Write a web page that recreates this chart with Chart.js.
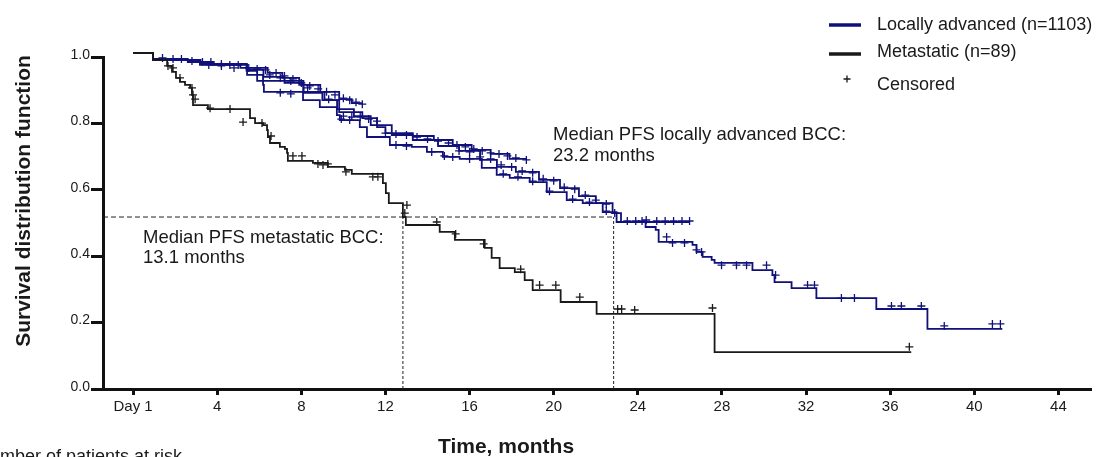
<!DOCTYPE html>
<html>
<head>
<meta charset="utf-8">
<script src="https://cdn.jsdelivr.net/npm/chart.js@4.4.1/dist/chart.umd.min.js"></script>
<style>
  html, body { margin: 0; padding: 0; background: #fff; }
  #wrap { position: relative; width: 1103px; height: 457px; }
</style>
</head>
<body>
<div id="wrap"><canvas id="km"></canvas></div>
<script>
const BLUE = '#10107a';
const BLACK = '#1a1a1a';
const FONT = '"Liberation Sans", Arial, sans-serif';

// x axis ticks (months)
const xTickValues = [0, 4, 8, 12, 16, 20, 24, 28, 32, 36, 40, 44];
const xTickLabels = ['Day 1', '4', '8', '12', '16', '20', '24', '28', '32', '36', '40', '44'];
const yTickValues = [0, 0.2, 0.4, 0.6, 0.8, 1.0];

// metastatic (n=89) step curve
const metTime = [0, 0.95, 1.62, 1.85, 2.04, 2.23, 2.47, 2.71, 2.80, 2.85, 3.56, 5.56, 5.80, 6.18, 6.37, 6.41, 6.51, 6.98, 7.22, 7.32, 7.36, 8.55, 9.26, 10.07, 10.40, 11.88, 12.02, 12.16, 12.83, 12.97, 14.58, 15.30, 16.72, 17.05, 17.43, 18.15, 18.62, 19.00, 20.33, 22.04, 27.65, 37.0];
const metSurv = [1.012, 0.991, 0.973, 0.955, 0.937, 0.925, 0.916, 0.907, 0.886, 0.855, 0.843, 0.816, 0.801, 0.795, 0.780, 0.759, 0.741, 0.729, 0.723, 0.711, 0.687, 0.681, 0.669, 0.660, 0.648, 0.620, 0.590, 0.560, 0.518, 0.494, 0.473, 0.449, 0.425, 0.395, 0.364, 0.352, 0.328, 0.298, 0.262, 0.226, 0.111, 0.111];
const metCensTime = [1.66, 1.90, 2.23, 2.80, 2.85, 2.95, 3.66, 4.61, 5.23, 6.13, 6.56, 7.60, 8.03, 8.79, 9.03, 9.26, 10.12, 11.40, 11.64, 12.92, 13.02, 14.44, 15.34, 16.67, 18.43, 19.33, 20.10, 21.24, 23.04, 23.23, 23.85, 27.55, 36.91];
const metCensSurv = [0.973, 0.967, 0.937, 0.907, 0.886, 0.873, 0.846, 0.843, 0.804, 0.801, 0.762, 0.702, 0.702, 0.678, 0.675, 0.678, 0.654, 0.639, 0.639, 0.530, 0.554, 0.503, 0.467, 0.437, 0.361, 0.313, 0.313, 0.277, 0.241, 0.241, 0.238, 0.244, 0.127];

// locally advanced (n=1103): the figure overlays several data cuts
const laTimeA = [0, 0.95, 3.18, 5.42, 6.18, 6.22, 8.08, 8.88, 9.69, 9.83, 10.78, 11.12, 12.21, 13.25, 13.97, 14.73, 15.53, 16.58, 17.29, 17.91, 18.86, 19.67, 20.62, 21.38, 22.33, 22.99, 24.37, 24.85, 24.99, 26.60, 26.79, 27.08, 27.51, 27.65, 29.45, 30.40, 30.50, 31.31, 32.49, 35.34, 37.77, 41.33];
const laSurvA = [1.012, 0.991, 0.976, 0.946, 0.916, 0.895, 0.870, 0.849, 0.825, 0.810, 0.789, 0.759, 0.735, 0.729, 0.714, 0.699, 0.693, 0.666, 0.645, 0.636, 0.623, 0.593, 0.569, 0.560, 0.533, 0.503, 0.488, 0.479, 0.443, 0.434, 0.413, 0.398, 0.389, 0.380, 0.358, 0.343, 0.322, 0.304, 0.274, 0.241, 0.181, 0.181];
const laTimeB = [0, 0.95, 3.2, 5.4, 5.9, 8.1, 9.0, 9.7, 10.5, 11.3, 12.3, 13.3, 14.5, 15.5, 16.5, 17.3, 18.2, 19.3, 20.3, 21.2, 22.0, 22.8, 23.2, 26.46];
const laSurvB = [1.012, 0.991, 0.979, 0.958, 0.928, 0.892, 0.870, 0.843, 0.822, 0.795, 0.765, 0.750, 0.732, 0.717, 0.690, 0.669, 0.654, 0.630, 0.605, 0.581, 0.560, 0.530, 0.503, 0.503];
const laTimeC = [0, 0.95, 3.2, 5.4, 6.2, 7.2, 8.1, 9.1, 9.8, 10.9, 11.6, 12.0, 13.3, 14.3, 15.2, 16.1, 17.0, 17.9, 18.72];
const laSurvC = [1.012, 0.991, 0.979, 0.961, 0.940, 0.922, 0.895, 0.870, 0.834, 0.816, 0.789, 0.771, 0.762, 0.750, 0.735, 0.720, 0.708, 0.693, 0.693];
const laTimeD = [0, 0.95, 2.6, 3.8, 5.1, 6.4, 7.1, 7.9, 8.9, 9.8, 10.4, 10.88];
const laSurvD = [1.012, 0.994, 0.985, 0.976, 0.967, 0.952, 0.937, 0.916, 0.895, 0.873, 0.861, 0.861];

const laCensTime = [
  0.05, 0.3, 0.55, 1.0,
  1.4, 1.9, 2.3, 2.8, 3.3, 3.7, 4.2, 4.6, 5.0, 5.5, 5.9, 6.3, 6.8, 7.2, 7.6, 8.0, 8.4, 8.8, 9.2, 9.6, 10.0, 10.3, 10.6, 10.9,
  6.5, 7.0, 7.5, 8.3, 9.3, 10.0, 10.4, 10.8, 11.2, 11.6, 12.0, 12.5, 13.0, 13.5, 14.0, 14.5, 15.0, 15.4, 15.8, 16.2, 16.6, 17.0, 17.4, 17.8, 18.2, 18.7,
  15.5, 16.0, 16.5, 17.0, 17.5, 18.0, 18.5, 19.0, 19.5, 20.0, 20.5, 21.0, 21.5, 22.0, 22.5, 22.9, 24.4, 24.9, 25.3, 25.7, 26.1, 26.46,
  3.6, 4.2, 4.8, 7.0, 7.5, 9.9, 10.3, 12.5, 13.0, 14.2, 14.8, 15.2, 16.0, 17.6, 18.3, 19.0, 19.8, 20.9, 21.7, 22.5, 23.5, 23.9, 24.2,
  25.37, 25.65, 26.22, 26.79, 27.03, 27.98, 28.69, 29.17, 30.12, 30.55, 32.07, 32.40, 33.68, 34.30, 36.06, 36.53, 37.48, 38.57, 40.86, 41.24
];
const laCensSurv = [
  1.020, 1.020, 1.020, 1.020,
  0.997, 0.994, 0.994, 0.988, 0.985, 0.985, 0.979, 0.976, 0.976, 0.967, 0.964, 0.961, 0.952, 0.943, 0.934, 0.922, 0.913, 0.904, 0.895, 0.886, 0.876, 0.870, 0.864, 0.858,
  0.946, 0.937, 0.928, 0.907, 0.873, 0.822, 0.819, 0.819, 0.813, 0.807, 0.771, 0.768, 0.765, 0.759, 0.753, 0.747, 0.741, 0.735, 0.729, 0.723, 0.717, 0.711, 0.708, 0.702, 0.696, 0.690,
  0.717, 0.714, 0.699, 0.693, 0.675, 0.669, 0.657, 0.651, 0.633, 0.627, 0.608, 0.602, 0.584, 0.569, 0.557, 0.530, 0.509, 0.506, 0.506, 0.506, 0.506, 0.506,
  0.976, 0.973, 0.967, 0.892, 0.889, 0.813, 0.810, 0.735, 0.732, 0.714, 0.702, 0.699, 0.693, 0.648, 0.639, 0.626, 0.596, 0.572, 0.563, 0.536, 0.506, 0.506, 0.506,
  0.458, 0.440, 0.440, 0.419, 0.413, 0.373, 0.373, 0.373, 0.373, 0.343, 0.313, 0.313, 0.274, 0.274, 0.250, 0.250, 0.250, 0.190, 0.196, 0.196
];

// median reference lines
const medianLevel = 0.518;
const medianMonths = [12.83, 22.85];

const X_MIN = -1.43, X_MAX = 45.5;

function pts(times, vals) {
  return times.map((t, i) => ({ x: t, y: vals[i] }));
}

function stepSet(label, times, vals, color) {
  return {
    label, data: pts(times, vals), borderColor: color, borderWidth: 1.8,
    stepped: 'before', pointRadius: 0, fill: false, clip: false
  };
}

function censorSet(label, times, vals, color) {
  return {
    label, data: pts(times, vals), showLine: false, pointStyle: 'cross',
    pointRadius: 4, pointBorderWidth: 1.3, borderColor: color, backgroundColor: color, clip: false
  };
}

function dashSet(a, b, dash) {
  return {
    label: 'median', data: [a, b], borderColor: '#222', borderWidth: 1,
    borderDash: dash, pointRadius: 0, fill: false
  };
}

const datasets = [
  stepSet('Metastatic (n=89)', metTime, metSurv, BLACK),
  censorSet('Censored met', metCensTime, metCensSurv, BLACK),
  stepSet('Locally advanced (n=1103)', laTimeA, laSurvA, BLUE),
  stepSet('LA cut B', laTimeB, laSurvB, BLUE),
  stepSet('LA cut C', laTimeC, laSurvC, BLUE),
  stepSet('LA cut D', laTimeD, laSurvD, BLUE),
  censorSet('Censored LA', laCensTime, laCensSurv, BLUE),
  dashSet({ x: X_MIN, y: medianLevel }, { x: medianMonths[1], y: medianLevel }, [5, 3]),
  dashSet({ x: medianMonths[0], y: 0 }, { x: medianMonths[0], y: medianLevel }, [3, 2]),
  dashSet({ x: medianMonths[1], y: 0 }, { x: medianMonths[1], y: medianLevel }, [3, 2])
];

// texts, legend and axis titles drawn on top
const decorations = {
  id: 'decorations',
  afterDraw(chart) {
    const ctx = chart.ctx;
    ctx.save();
    ctx.fillStyle = '#1a1a1a';
    ctx.textAlign = 'left';
    ctx.textBaseline = 'alphabetic';

    // legend
    ctx.lineWidth = 3.5;
    ctx.strokeStyle = BLUE;
    ctx.beginPath(); ctx.moveTo(829, 25); ctx.lineTo(861, 25); ctx.stroke();
    ctx.strokeStyle = BLACK;
    ctx.beginPath(); ctx.moveTo(829, 54); ctx.lineTo(861, 54); ctx.stroke();
    ctx.lineWidth = 1.3;
    ctx.beginPath();
    ctx.moveTo(843.5, 79); ctx.lineTo(850.5, 79);
    ctx.moveTo(847, 75.5); ctx.lineTo(847, 82.5);
    ctx.stroke();
    ctx.font = '18px ' + FONT;
    ctx.fillText('Locally advanced (n=1103)', 877, 30);
    ctx.fillText('Metastatic (n=89)', 877, 57);
    ctx.fillText('Censored', 877, 90);

    // median notes
    ctx.font = '18.5px ' + FONT;
    ctx.fillText('Median PFS locally advanced BCC:', 553, 140);
    ctx.fillText('23.2 months', 553, 161);
    ctx.fillText('Median PFS metastatic BCC:', 143, 243);
    ctx.fillText('13.1 months', 143, 263);

    // cut-off risk table heading
    ctx.font = '18px ' + FONT;
    ctx.fillText('Number of patients at risk', -23, 462);

    // axis titles
    ctx.font = 'bold 21px ' + FONT;
    ctx.textAlign = 'center';
    ctx.fillText('Time, months', 506, 453);
    ctx.translate(29.5, 201);
    ctx.rotate(-Math.PI / 2);
    ctx.fillText('Survival distribution function', 0, 0);
    ctx.restore();
  }
};

new Chart(document.getElementById('km'), {
  type: 'line',
  data: { datasets },
  plugins: [decorations],
  options: {
    responsive: true,
    maintainAspectRatio: false,
    animation: false,
    layout: { padding: { top: 57, right: 13, left: 0, bottom: 0 } },
    plugins: { legend: { display: false }, tooltip: { enabled: false } },
    scales: {
      x: {
        type: 'linear',
        min: X_MIN,
        max: X_MAX,
        afterBuildTicks: (s) => { s.ticks = xTickValues.map(v => ({ value: v })); },
        afterFit: (s) => { s.height = 68; },
        ticks: {
          callback: (v, i) => xTickLabels[i],
          font: { family: FONT, size: 15 },
          color: '#1a1a1a',
          padding: 3,
          maxRotation: 0,
          autoSkip: false
        },
        grid: { drawOnChartArea: false, drawTicks: true, tickLength: 6, tickWidth: 3, lineWidth: 3, tickColor: '#111' },
        border: { display: true, width: 3, color: '#111' }
      },
      y: {
        min: 0,
        max: 1,
        afterBuildTicks: (s) => { s.ticks = yTickValues.map(v => ({ value: v })); },
        afterFit: (s) => { s.width = 103; },
        ticks: {
          callback: (v) => Number(v).toFixed(1),
          font: { family: FONT, size: 14 },
          color: '#1a1a1a',
          padding: 1,
          labelOffset: -2
        },
        grid: { drawOnChartArea: false, drawTicks: true, tickLength: 12, tickWidth: 3, lineWidth: 3, tickColor: '#111' },
        border: { display: true, width: 3, color: '#111' }
      }
    }
  }
});
</script>
</body>
</html>
